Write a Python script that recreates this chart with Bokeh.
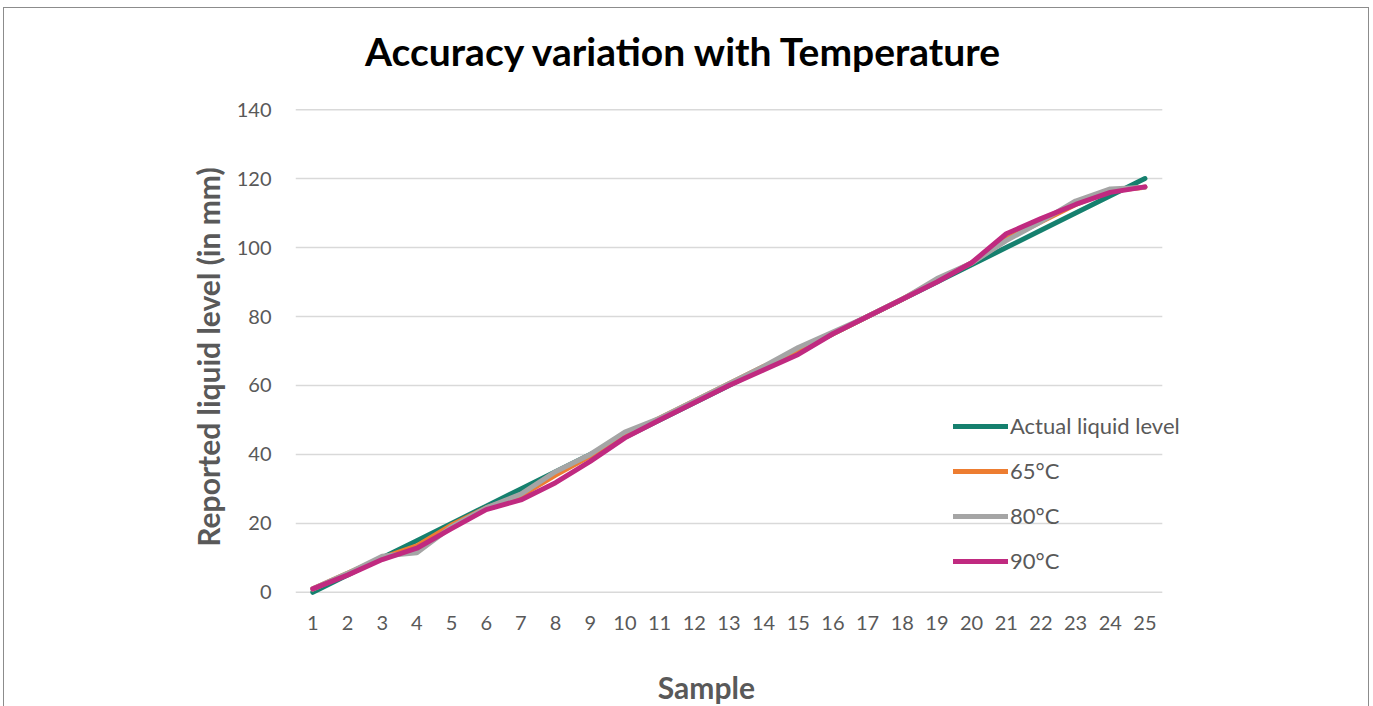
from bokeh.plotting import figure
from bokeh.models import Range1d, FixedTicker, Legend, LegendItem, Label
from bokeh.core.properties import value
from bokeh.embed import file_html
from bokeh.resources import INLINE

samples = list(range(1, 26))
tick_labels = [str(s) for s in samples]
y_ticks = [0, 20, 40, 60, 80, 100, 120, 140]
actual = [0, 5, 10, 15, 20, 25, 30, 35, 40, 45, 50, 55, 60, 65, 70, 75, 80, 85, 90, 95, 100, 105, 110, 115, 120]
t65 = [1, 5.5, 10, 13.5, 19.5, 24.5, 28, 34, 39.5, 45.5, 50.5, 55.5, 60.5, 65.5, 70, 75, 80, 85, 90.5, 95.5, 102.5, 107.5, 112.5, 116.5, 117.5]
t80 = [1, 5.5, 10.5, 11.5, 19, 24.5, 28.5, 35, 40, 46.5, 50.5, 55.5, 60.5, 65.5, 71, 75.5, 80, 85, 91, 95.5, 102, 107.5, 113.5, 117, 117.5]
t90 = [1, 5, 9.5, 12.8, 18.5, 24, 26.8, 31.8, 38, 44.8, 50, 55, 60, 64.5, 69, 75, 80, 85, 90, 95.6, 104, 108.4, 112.5, 116, 117.6]

series_names = ["Actual liquid level", "65°C", "80°C", "90°C"]
series_vals = [actual, t65, t80, t90]
colors = ["#15806E", "#ED7D31", "#A5A5A5", "#C02A80"]

FONT = "Lato"
GREY = "#595959"

# pixel geometry of the plotting area (0 -> 591 px, 140 -> 109 px)
PX_PER_UNIT = (591 - 109) / 140.0
FRAME_TOP, FRAME_BOTTOM = 8, 704
y_top = 140 + (109 - FRAME_TOP) / PX_PER_UNIT
y_bot = -(FRAME_BOTTOM - 591) / PX_PER_UNIT
label_y = -(622 - 591) / PX_PER_UNIT
xlabel_y = -(686 - 591) / PX_PER_UNIT
title_y = 140 + (109 - 50) / PX_PER_UNIT

p = figure(width=1366, height=699, output_backend="svg", toolbar_location=None,
           x_range=Range1d(0.5, 26.4), y_range=Range1d(y_bot, y_top),
           min_border_left=291, min_border_right=177, min_border_top=0, min_border_bottom=2)
p.styles = {"margin-left": "3px", "margin-top": "7px",
            "border-left": "1px solid #8c8c8c", "border-right": "1px solid #8c8c8c",
            "border-top": "1px solid #8c8c8c"}
p.outline_line_color = None
p.background_fill_color = "white"
p.border_fill_color = "white"

# horizontal grid lines limited to the category span
x_lo, x_hi = samples[0] - 0.5, samples[-1] + 0.5
p.segment(x0=[x_lo] * len(y_ticks), x1=[x_hi] * len(y_ticks), y0=y_ticks, y1=y_ticks,
          line_color="#D9D9D9", line_width=1.5, level="underlay")

renderers = []
for name, vals, c in zip(series_names, series_vals, colors):
    r = p.line(samples, vals, line_color=c, line_width=5, line_join="round", line_cap="round")
    renderers.append((name, r))

# category labels of the x axis
p.text(x=samples, y=[label_y] * len(samples), text=tick_labels,
       text_font=value(FONT), text_font_size="20px", text_color=GREY,
       text_align="center", text_baseline="middle")

legend = Legend(items=[LegendItem(label=n, renderers=[r]) for n, r in renderers],
                location=(658, 18 + (FRAME_BOTTOM - 591)), orientation="vertical")
legend.glyph_width = 55
legend.glyph_height = 20
legend.label_height = 20
legend.spacing = 18
legend.padding = 0
legend.margin = 0
legend.label_standoff = 2
legend.background_fill_alpha = 0
legend.border_line_color = None
legend.label_text_font = FONT
legend.label_text_font_size = "22px"
legend.label_text_color = GREY
p.add_layout(legend, "center")

p.xaxis.visible = False
p.xgrid.grid_line_color = None
p.ygrid.grid_line_color = None

ax = p.yaxis[0]
ax.ticker = FixedTicker(ticks=y_ticks)
ax.axis_line_color = None
ax.major_tick_line_color = None
ax.minor_tick_line_color = None
ax.major_label_text_font = FONT
ax.major_label_text_font_size = "20px"
ax.major_label_text_color = GREY
ax.axis_label = "Reported liquid level (in mm)"
ax.axis_label_text_font = FONT
ax.axis_label_text_font_size = "30px"
ax.axis_label_text_font_style = "bold"
ax.axis_label_text_color = GREY
ax.major_label_standoff = 18
ax.axis_label_standoff = 8

p.add_layout(Label(x=12.35, y=xlabel_y, text="Sample", text_font=FONT, text_font_size="30px",
                   text_font_style="bold", text_color=GREY,
                   text_align="center", text_baseline="middle"))
p.add_layout(Label(x=11.72, y=title_y, text="Accuracy variation with Temperature",
                   text_font=FONT, text_font_size="39px", text_font_style="bold",
                   text_color="black", text_align="center", text_baseline="middle"))

open("out.html", "w").write(file_html(p, INLINE))
